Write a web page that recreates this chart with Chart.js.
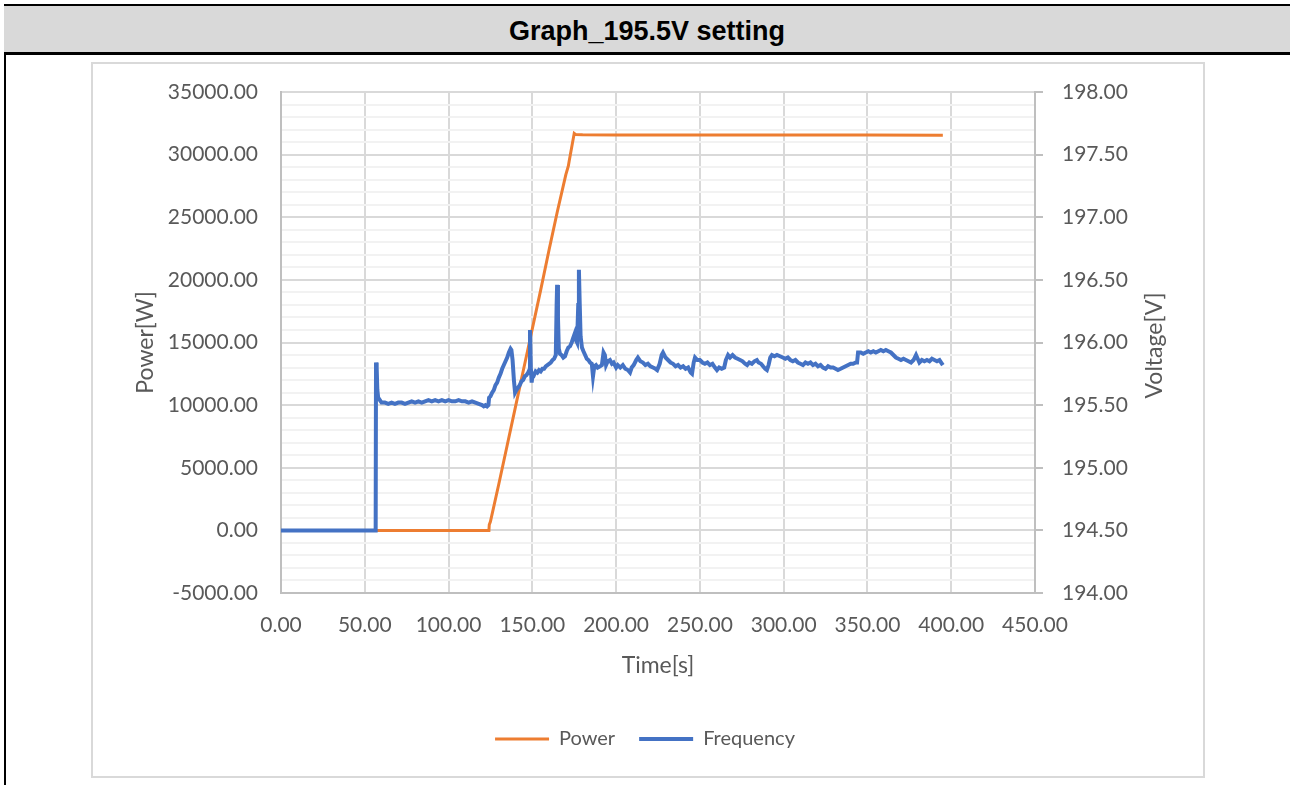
<!DOCTYPE html>
<html>
<head>
<meta charset="utf-8">
<script src="https://cdn.jsdelivr.net/npm/chart.js@4"></script>
<style>
  html, body { margin: 0; padding: 0; }
  body { width: 1290px; height: 785px; position: relative; overflow: hidden; background: #fff; }
  #leftRule { position: absolute; left: 4px; top: 4px; width: 2px; height: 781px; background: #000; }
  #head {
    position: absolute; left: 4px; top: 4px; width: 1286px; height: 51px;
    box-sizing: border-box; background: #d9d9d9;
    border-top: 2px solid #000; border-bottom: 3px solid #000;
    font: bold 27px "Liberation Sans", Arial, sans-serif; color: #000;
    text-align: center; line-height: 50px;
  }
  #frame {
    position: absolute; left: 91px; top: 62px; width: 1114px; height: 716px;
    box-sizing: border-box; border: 2px solid #d9d9d9;
  }
  #chart { position: absolute; left: 0; top: 0; }
</style>
</head>
<body>
<div id="leftRule"></div>
<div id="head">Graph_195.5V setting</div>
<div id="frame"></div>
<canvas id="chart" width="1290" height="785"></canvas>
<script>
// time axis [s]
const xTicks = [0, 50, 100, 150, 200, 250, 300, 350, 400, 450];

// Power [W]
const powerTime = [0, 124.1, 124.3, 125, 130, 135, 140, 145, 150, 155, 160, 165, 170, 171.5, 172, 175, 176, 180, 200, 250, 300, 350, 395];
const powerWatt = [0, 0, 450, 700, 3700, 6800, 9900, 13000, 16100, 19200, 22400, 25500, 28400, 29100, 29500, 31700, 31600, 31580, 31570, 31560, 31560, 31560, 31550];

// Frequency trace, plotted against the voltage axis [V]
const freqTime = [
  0, 56.5, 56.7, 57.1, 57.5, 58, 59, 60, 62, 64, 66, 68, 70, 72, 74, 76, 78, 80, 82, 84, 86, 88, 90, 92, 94, 96, 98, 100,
  102, 104, 106, 108, 110, 112, 114, 116, 118, 120, 121, 122, 123, 123.8,
  124.2, 125, 126, 127, 128, 129, 130, 131, 132, 133, 134, 135, 136, 137, 137.5, 138.2, 139, 139.7, 140.5, 141.5, 142.5,
  143.5, 144.5, 145.5, 146.5, 147.5, 148.2, 148.6, 149.1, 149.6, 150.2, 151, 152, 153, 154, 155, 156, 157, 158, 159, 160,
  161, 162, 163, 164, 164.5, 164.8, 165.3, 165.8, 166.5, 167.5, 168.5, 169.5, 170.5, 171.5, 172.5, 173.5, 174.5, 175.3,
  176, 176.7, 177.4, 177.8, 178.3, 178.8, 179.6, 180.5, 181.5, 182.5, 183.5, 184.5, 185.5, 186.2, 187, 188, 189, 190.4,
  191.5, 192.5, 193.3, 194, 195, 196.3, 197.5, 198.5, 200, 201, 202.5, 204, 205.5, 207, 208.3, 209.3, 210.5, 212, 213,
  214.5, 216, 217.5, 219, 220.5, 222, 223.5, 224.5, 226, 227.2, 228, 229.5, 231, 232.5, 234, 235.5, 237, 238.5, 240,
  241.5, 243, 244.5, 245.3, 246.3, 247.1, 248.5, 250, 251.5, 253, 254.5, 256, 257.5, 259, 260.2, 261.5, 263, 264.5,
  265.5, 266.8, 268, 269.5, 271, 272.5, 274, 275.5, 277, 278.2, 279.5, 281, 282.5, 284, 285, 286.5, 287.7, 289, 290,
  291, 292, 293, 294.5, 296, 297.8, 299.5, 301, 302.5, 304, 305.5, 307, 308.5, 310, 311.5, 313, 314.5, 316, 317.5, 319,
  320.5, 322, 323.5, 325, 326.5, 328, 329.5, 331, 332.4, 334, 335.5, 337, 338.5, 340, 341.5, 343, 343.8, 344.4, 346,
  347.5, 349, 350.5, 352, 353.5, 355, 356.5, 358, 359.5, 361, 362.5, 364, 365.5, 367, 368.5, 370, 371.5, 373, 374.5,
  376, 377.5, 379, 380, 381, 382.5, 384, 385.5, 387, 388.5, 390, 391.5, 393, 394, 395
];
const freqVolt = [
  194.50, 194.50, 195.84, 195.80, 195.62, 195.56, 195.54, 195.52, 195.52, 195.51, 195.52, 195.51, 195.52, 195.52, 195.51,
  195.52, 195.53, 195.52, 195.53, 195.52, 195.53, 195.54, 195.53, 195.54, 195.53, 195.54, 195.53, 195.54,
  195.53, 195.53, 195.54, 195.53, 195.53, 195.52, 195.53, 195.52, 195.51, 195.50, 195.49, 195.50, 195.49, 195.50,
  195.56, 195.57, 195.60, 195.62, 195.66, 195.68, 195.72, 195.75, 195.79, 195.82, 195.85, 195.88, 195.92, 195.95, 195.94,
  195.86, 195.70, 195.60, 195.62, 195.64, 195.66,
  195.69, 195.70, 195.73, 195.74, 195.76, 195.78, 196.10, 195.80, 195.68, 195.75, 195.74, 195.77, 195.76, 195.78, 195.77,
  195.79, 195.79, 195.81, 195.82, 195.83,
  195.84, 195.86, 195.87, 195.90, 196.30, 196.46, 196.20, 195.95, 195.91, 195.90, 195.88, 195.89, 195.93, 195.96, 195.97,
  196.00, 196.04, 196.07,
  196.02, 196.00, 196.30, 196.58, 196.30, 196.05, 195.96, 195.93, 195.90, 195.87, 195.86, 195.84, 195.83, 195.73, 195.81,
  195.82, 195.80, 195.81,
  195.82, 195.92, 195.90, 195.82, 195.85, 195.86, 195.83, 195.84, 195.80, 195.82, 195.80, 195.82, 195.79, 195.78, 195.76,
  195.80, 195.82, 195.86, 195.88,
  195.85, 195.84, 195.82, 195.83, 195.81, 195.80, 195.79, 195.78, 195.83, 195.90, 195.92, 195.88, 195.86, 195.84, 195.83,
  195.81, 195.82, 195.80, 195.81,
  195.79, 195.80, 195.76, 195.75, 195.84, 195.88, 195.86, 195.86, 195.84, 195.83, 195.84, 195.82, 195.83, 195.80, 195.78,
  195.80, 195.79, 195.80,
  195.86, 195.90, 195.88, 195.90, 195.88, 195.87, 195.86, 195.85, 195.83, 195.82, 195.84, 195.83, 195.85, 195.86, 195.84,
  195.83, 195.81, 195.79, 195.78,
  195.82, 195.88, 195.90, 195.89, 195.90, 195.89, 195.88, 195.87, 195.88, 195.86, 195.85, 195.86, 195.84, 195.83, 195.82,
  195.84, 195.83, 195.84, 195.82, 195.83,
  195.81, 195.82, 195.80, 195.79, 195.81, 195.80, 195.80, 195.79, 195.78, 195.79, 195.80, 195.81, 195.82, 195.83, 195.83,
  195.84, 195.84, 195.92, 195.92,
  195.91, 195.92, 195.93, 195.92, 195.93, 195.92, 195.93, 195.94, 195.93, 195.94, 195.93, 195.92, 195.90, 195.88, 195.87,
  195.86, 195.87, 195.86, 195.85,
  195.84, 195.86, 195.90, 195.87, 195.84, 195.86, 195.85, 195.86, 195.85, 195.87, 195.86, 195.85, 195.86, 195.84, 195.82
];

const GREY_TEXT = '#595959';
const GRID_MAJOR = '#d9d9d9';
const GRID_MINOR = '#f2f2f2';
const AXIS_LINE = '#bfbfbf';

Chart.defaults.font.family = 'Lato';
Chart.defaults.color = GREY_TEXT;

const toPoints = (xs, ys) => xs.map((x, i) => ({ x: x, y: ys[i] }));

// right-hand axis title reads bottom-to-top like the left one
const voltTitle = {
  id: 'voltTitle',
  afterDraw(chart) {
    const s = chart.scales.y1;
    const ctx = chart.ctx;
    ctx.save();
    ctx.translate(s.left + 120, (s.top + s.bottom) / 2 + 3);
    ctx.rotate(-Math.PI / 2);
    ctx.font = '23px Lato';
    ctx.fillStyle = GREY_TEXT;
    ctx.textAlign = 'center';
    ctx.textBaseline = 'middle';
    ctx.fillText('Voltage[V]', 0, 0);
    ctx.restore();
  }
};

new Chart(document.getElementById('chart'), {
  type: 'line',
  data: {
    datasets: [
      {
        label: 'Power',
        data: toPoints(powerTime, powerWatt),
        borderColor: '#ed7d31',
        backgroundColor: '#ed7d31',
        borderWidth: 3,
        pointRadius: 0,
        yAxisID: 'y',
        order: 1
      },
      {
        label: 'Frequency',
        data: toPoints(freqTime, freqVolt),
        borderColor: '#4472c4',
        backgroundColor: '#4472c4',
        borderWidth: 4,
        pointRadius: 0,
        yAxisID: 'y1',
        order: 0
      }
    ]
  },
  options: {
    responsive: false,
    animation: false,
    layout: { padding: { top: 92, bottom: 26, left: 0, right: 0 } },
    plugins: {
      tooltip: { enabled: false },
      legend: {
        position: 'bottom',
        labels: {
          usePointStyle: true,
          pointStyle: 'line',
          pointStyleWidth: 54,
          padding: 24,
          font: { size: 20 },
          sort: (a, b) => a.datasetIndex - b.datasetIndex
        }
      }
    },
    scales: {
      x: {
        type: 'linear',
        min: xTicks[0],
        max: xTicks[xTicks.length - 1],
        afterBuildTicks: s => { s.ticks = xTicks.map(v => ({ value: v })); },
        afterFit: s => { s.height = 112; },
        ticks: { font: { size: 21 }, padding: 20, maxRotation: 0, callback: v => v.toFixed(2) },
        grid: { color: GRID_MAJOR, lineWidth: 2, drawTicks: false },
        border: { color: AXIS_LINE, width: 2 },
        title: { display: true, text: 'Time[s]', font: { size: 23 }, padding: { top: 0, bottom: 26 } }
      },
      y: {
        position: 'left',
        min: -5000,
        max: 35000,
        afterFit: s => { s.width = 281; },
        ticks: {
          stepSize: 1000,
          autoSkip: false,
          font: { size: 21 },
          padding: 23,
          callback: v => (v % 5000 === 0 ? v.toFixed(2) : '')
        },
        grid: {
          lineWidth: 2,
          drawTicks: false,
          color: c => (c.tick && c.tick.value % 5000 === 0 ? GRID_MAJOR : GRID_MINOR)
        },
        border: { color: AXIS_LINE, width: 2 },
        title: { display: true, text: 'Power[W]', font: { size: 23 }, padding: { top: 132, bottom: 0 } }
      },
      y1: {
        position: 'right',
        min: 194,
        max: 198,
        afterFit: s => { s.width = 255; },
        ticks: { stepSize: 0.5, font: { size: 21 }, padding: 19, callback: v => v.toFixed(2) },
        grid: { drawOnChartArea: false, drawTicks: true, tickLength: 8, color: AXIS_LINE, lineWidth: 2 },
        border: { color: AXIS_LINE, width: 2 }
      }
    }
  },
  plugins: [voltTitle]
});
</script>
</body>
</html>
